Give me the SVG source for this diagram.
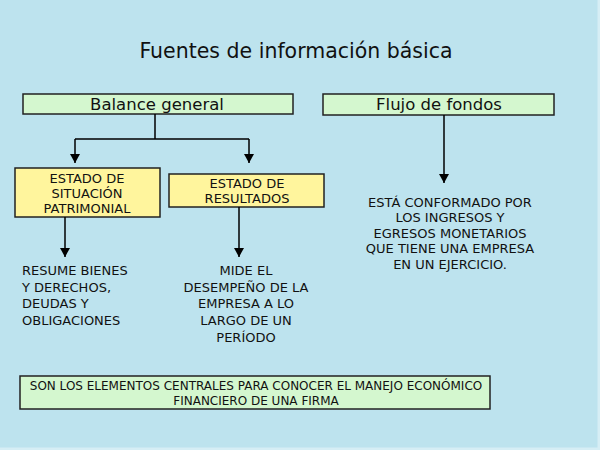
<svg xmlns="http://www.w3.org/2000/svg" width="600" height="450" viewBox="0 0 600 450">
<defs>
<marker id="ah" markerWidth="10" markerHeight="10" refX="9" refY="5" orient="auto" markerUnits="userSpaceOnUse">
<path d="M0,0 L9,5 L0,10 Z" fill="#000"/>
</marker>
<style>
.g{fill:#d4f7cf;stroke:#222;stroke-width:1.5}
.y{fill:#fff59d;stroke:#222;stroke-width:1.5}
.t{font-family:"DejaVu Sans",Verdana,sans-serif;fill:#111}
.s{font-size:13px}
.b{font-size:12px}
.c{text-anchor:middle}
.ln{stroke:#000;stroke-width:1.5;fill:none}
</style>
</defs>
<rect x="0" y="0" width="600" height="450" fill="#bde3ee"/>
<rect x="597.5" y="0" width="2.5" height="450" fill="#d6eef5"/>
<rect x="0" y="447.5" width="600" height="2.5" fill="#d6eef5"/>
<text class="t c" x="296" y="58" font-size="20.5">Fuentes de información básica</text>
<g id="balance"><rect class="g" x="23" y="94" width="270" height="20"/><text class="t c" x="157" y="110" font-size="16.5">Balance general</text></g>
<g id="flujo"><rect class="g" x="323" y="94" width="231" height="21"/><text class="t c" x="439" y="110" font-size="16.5">Flujo de fondos</text></g>
<g id="situacion"><rect class="y" x="15" y="168" width="145" height="49"/>
<text class="t c s" x="87" y="183">ESTADO DE</text><text class="t c s" x="87" y="198">SITUACIÓN</text><text class="t c s" x="87" y="213">PATRIMONIAL</text></g>
<g id="resultados"><rect class="y" x="169" y="174" width="155" height="33"/>
<text class="t c s" x="247" y="188">ESTADO DE</text><text class="t c s" x="247" y="203">RESULTADOS</text></g>
<g id="resume"><text class="t s" x="22" y="275">RESUME BIENES</text><text class="t s" x="22" y="292">Y DERECHOS,</text><text class="t s" x="22" y="308">DEUDAS Y</text><text class="t s" x="22" y="325">OBLIGACIONES</text></g>
<g id="mide"><text class="t c s" x="246" y="275">MIDE EL</text><text class="t c s" x="246" y="292">DESEMPEÑO DE LA</text><text class="t c s" x="246" y="308">EMPRESA A LO</text><text class="t c s" x="246" y="325">LARGO DE UN</text><text class="t c s" x="246" y="342">PERÍODO</text></g>
<g id="esta"><text class="t c s" x="450" y="207">ESTÁ CONFORMADO POR</text><text class="t c s" x="450" y="222">LOS INGRESOS Y</text><text class="t c s" x="450" y="238">EGRESOS MONETARIOS</text><text class="t c s" x="450" y="253">QUE TIENE UNA EMPRESA</text><text class="t c s" x="450" y="269">EN UN EJERCICIO.</text></g>
<g id="conclusion"><rect class="g" x="20" y="376" width="470" height="33"/>
<text class="t c b" x="256" y="390">SON LOS ELEMENTOS CENTRALES PARA CONOCER EL MANEJO ECONÓMICO</text><text class="t c b" x="256" y="405">FINANCIERO DE UNA FIRMA</text></g>
<g id="connectors">
<path class="ln" d="M155,114 V139 M75,139 H249"/>
<path class="ln" d="M75,139 V163" marker-end="url(#ah)"/>
<path class="ln" d="M249,139 V163" marker-end="url(#ah)"/>
<path class="ln" d="M444,115 V183" marker-end="url(#ah)"/>
<path class="ln" d="M65,217 V257" marker-end="url(#ah)"/>
<path class="ln" d="M239,207 V257" marker-end="url(#ah)"/>
</g>
</svg>
